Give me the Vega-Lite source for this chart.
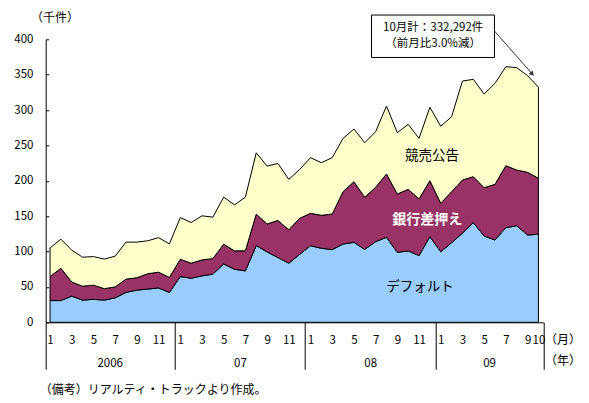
{
  "$schema": "https://vega.github.io/schema/vega-lite/v6.json",
  "width": 497.6,
  "height": 283,
  "autosize": {"type": "none"},
  "padding": {"left": 45.7, "top": 39.3, "right": 45.7, "bottom": 80.7},
  "background": "white",
  "config": {
    "view": {"stroke": null},
    "font": "Noto Sans CJK JP",
    "axis": {"labelFont": "Noto Sans CJK JP", "titleFont": "Noto Sans CJK JP", "labelColor": "black", "titleColor": "black", "grid": false, "domainColor": "black", "tickColor": "black", "titleFontWeight": "normal"},
    "text": {"font": "Noto Sans CJK JP"}
  },
  "title": {"text": "（備考）リアルティ・トラックより作成。", "orient": "bottom", "anchor": "start", "frame": "group", "fontSize": 12, "fontWeight": "normal", "color": "black", "offset": 15, "dx": -6, "font": "Noto Sans CJK JP"},
  "datasets": {
    "系列表": [
      {"系列": "デフォルト", "順": 1},
      {"系列": "銀行差押え", "順": 2},
      {"系列": "競売公告", "順": 3}
    ]
  },
  "data": {"values": [
    {"年": 2006, "月": 1, "i": 0, "デフォルト": 30.7, "銀行差押え": 33.8, "競売公告": 40.5},
    {"年": 2006, "月": 2, "i": 1, "デフォルト": 30.7, "銀行差押え": 45.7, "競売公告": 41.1},
    {"年": 2006, "月": 3, "i": 2, "デフォルト": 37.0, "銀行差押え": 20.0, "競売公告": 45.0},
    {"年": 2006, "月": 4, "i": 3, "デフォルト": 31.3, "銀行差押え": 19.7, "競売公告": 41.0},
    {"年": 2006, "月": 5, "i": 4, "デフォルト": 32.5, "銀行差押え": 20.0, "競売公告": 40.4},
    {"年": 2006, "月": 6, "i": 5, "デフォルト": 31.3, "銀行差押え": 16.2, "競売公告": 41.8},
    {"年": 2006, "月": 7, "i": 6, "デフォルト": 34.6, "銀行差押え": 15.4, "競売公告": 43.5},
    {"年": 2006, "月": 8, "i": 7, "デフォルト": 42.2, "銀行差押え": 18.8, "競売公告": 52.3},
    {"年": 2006, "月": 9, "i": 8, "デフォルト": 45.5, "銀行差押え": 17.5, "競売公告": 50.3},
    {"年": 2006, "月": 10, "i": 9, "デフォルト": 47.0, "銀行差押え": 21.7, "競売公告": 46.5},
    {"年": 2006, "月": 11, "i": 10, "デフォルト": 48.5, "銀行差押え": 22.3, "競売公告": 48.9},
    {"年": 2006, "月": 12, "i": 11, "デフォルト": 42.2, "銀行差押え": 21.2, "競売公告": 47.4},
    {"年": 2007, "月": 1, "i": 12, "デフォルト": 64.6, "銀行差押え": 24.6, "競売公告": 58.8},
    {"年": 2007, "月": 2, "i": 13, "デフォルト": 62.3, "銀行差押え": 21.2, "競売公告": 57.5},
    {"年": 2007, "月": 3, "i": 14, "デフォルト": 65.6, "銀行差押え": 22.6, "競売公告": 62.3},
    {"年": 2007, "月": 4, "i": 15, "デフォルト": 68.0, "銀行差押え": 22.0, "競売公告": 58.6},
    {"年": 2007, "月": 5, "i": 16, "デフォルト": 82.5, "銀行差押え": 27.9, "競売公告": 66.5},
    {"年": 2007, "月": 6, "i": 17, "デフォルト": 75.0, "銀行差押え": 26.0, "競売公告": 65.0},
    {"年": 2007, "月": 7, "i": 18, "デフォルト": 72.6, "銀行差押え": 28.4, "競売公告": 76.0},
    {"年": 2007, "月": 8, "i": 19, "デフォルト": 108.5, "銀行差押え": 44.3, "競売公告": 86.8},
    {"年": 2007, "月": 9, "i": 20, "デフォルト": 99.5, "銀行差押え": 39.5, "競売公告": 81.8},
    {"年": 2007, "月": 10, "i": 21, "デフォルト": 91.5, "銀行差押え": 52.4, "競売公告": 80.6},
    {"年": 2007, "月": 11, "i": 22, "デフォルト": 83.5, "銀行差押え": 47.2, "競売公告": 71.3},
    {"年": 2007, "月": 12, "i": 23, "デフォルト": 96.0, "銀行差押え": 51.0, "競売公告": 69.0},
    {"年": 2008, "月": 1, "i": 24, "デフォルト": 108.2, "銀行差押え": 45.8, "競売公告": 78.7},
    {"年": 2008, "月": 2, "i": 25, "デフォルト": 104.6, "銀行差押え": 46.6, "競売公告": 74.4},
    {"年": 2008, "月": 3, "i": 26, "デフォルト": 102.7, "銀行差押え": 50.3, "競売公告": 79.7},
    {"年": 2008, "月": 4, "i": 27, "デフォルト": 110.6, "銀行差押え": 74.0, "競売公告": 75.4},
    {"年": 2008, "月": 5, "i": 28, "デフォルト": 113.0, "銀行差押え": 85.7, "競売公告": 74.5},
    {"年": 2008, "月": 6, "i": 29, "デフォルト": 103.0, "銀行差押え": 73.7, "競売公告": 77.2},
    {"年": 2008, "月": 7, "i": 30, "デフォルト": 114.0, "銀行差押え": 76.8, "競売公告": 78.6},
    {"年": 2008, "月": 8, "i": 31, "デフォルト": 120.1, "銀行差押え": 89.5, "競売公告": 96.1},
    {"年": 2008, "月": 9, "i": 32, "デフォルト": 98.9, "銀行差押え": 82.4, "競売公告": 86.7},
    {"年": 2008, "月": 10, "i": 33, "デフォルト": 100.8, "銀行差押え": 87.2, "競売公告": 91.8},
    {"年": 2008, "月": 11, "i": 34, "デフォルト": 94.2, "銀行差押え": 80.1, "競売公告": 85.7},
    {"年": 2008, "月": 12, "i": 35, "デフォルト": 121.0, "銀行差押え": 79.2, "競売公告": 103.7},
    {"年": 2009, "月": 1, "i": 36, "デフォルト": 99.8, "銀行差押え": 68.4, "競売公告": 108.8},
    {"年": 2009, "月": 2, "i": 37, "デフォルト": 112.5, "銀行差押え": 72.1, "競売公告": 106.0},
    {"年": 2009, "月": 3, "i": 38, "デフォルト": 126.0, "銀行差押え": 75.1, "競売公告": 139.9},
    {"年": 2009, "月": 4, "i": 39, "デフォルト": 141.0, "銀行差押え": 64.8, "競売公告": 137.6},
    {"年": 2009, "月": 5, "i": 40, "デフォルト": 122.0, "銀行差押え": 68.2, "競売公告": 132.5},
    {"年": 2009, "月": 6, "i": 41, "デフォルト": 116.3, "銀行差押え": 78.7, "競売公告": 142.8},
    {"年": 2009, "月": 7, "i": 42, "デフォルト": 133.7, "銀行差押え": 87.6, "競売公告": 140.0},
    {"年": 2009, "月": 8, "i": 43, "デフォルト": 136.5, "銀行差押え": 78.7, "競売公告": 144.7},
    {"年": 2009, "月": 9, "i": 44, "デフォルト": 123.4, "銀行差押え": 88.6, "競売公告": 136.6},
    {"年": 2009, "月": 10, "i": 45, "デフォルト": 124.4, "銀行差押え": 79.1, "競売公告": 128.8}
  ]},
  "resolve": {"axis": {"x": "independent", "y": "independent"}},
  "layer": [
    {
      "transform": [
        {"fold": ["デフォルト", "銀行差押え", "競売公告"], "as": ["系列", "件数"]},
        {"lookup": "系列", "from": {"data": {"name": "系列表"}, "key": "系列", "fields": ["順"]}}
      ],
      "mark": {"type": "area", "stroke": "black", "strokeWidth": 1, "opacity": 1},
      "encoding": {
        "x": {"field": "i", "type": "quantitative",
          "scale": {"domain": [-0.4, 45.45], "nice": false, "zero": false},
          "axis": {"orient": "bottom", "values": [0, 2, 4, 6, 8, 10, 12, 14, 16, 18, 20, 22, 24, 26, 28, 30, 32, 34, 36, 38, 40, 42, 44, 45],
            "labelExpr": "datum.value % 12 + 1", "ticks": false, "domain": true, "domainWidth": 1,
            "labelFontSize": 11.5, "labelPadding": 17.7, "labelBaseline": "middle", "labelFlush": false, "labelOverlap": false,
            "title": "（月）", "titleX": 516.8, "titleY": 17.5, "titleAlign": "center", "titleBaseline": "middle", "titleFontSize": 12}},
        "y": {"field": "件数", "type": "quantitative", "stack": "zero",
          "scale": {"domain": [0, 400], "nice": false},
          "axis": {"orient": "left", "values": [0, 50, 100, 150, 200, 250, 300, 350, 400], "tickSize": -3, "tickWidth": 1, "domainWidth": 1,
            "labelFontSize": 11.5, "labelPadding": 15.7,
            "title": "（千件）", "titleAngle": 0, "titleX": 8.8, "titleY": -22.3, "titleAlign": "center", "titleBaseline": "middle", "titleFontSize": 12}},
        "color": {"field": "系列", "type": "nominal",
          "scale": {"domain": ["デフォルト", "銀行差押え", "競売公告"], "range": ["#99CCFF", "#993366", "#FFFFCC"]}, "legend": null},
        "order": {"field": "順", "type": "quantitative", "sort": "ascending"}
      }
    },
    {
      "data": {"values": [{}]},
      "mark": {"type": "text", "fontSize": 13.5, "color": "black", "align": "center", "baseline": "middle"},
      "encoding": {
        "x": {"datum": 35.2, "type": "quantitative",
          "axis": {"orient": "bottom", "values": [5.5, 17.5, 29.5, 40.45],
            "labelExpr": "datum.value < 11 ? '2006' : datum.value < 23 ? '07' : datum.value < 35 ? '08' : '09'",
            "ticks": false, "domain": false, "labelFontSize": 11.5, "labelPadding": 41.5, "labelBaseline": "middle", "labelFlush": false,
            "title": "（年）", "titleX": 516.8, "titleY": 38, "titleAlign": "center", "titleBaseline": "middle", "titleFontSize": 12}},
        "y": {"datum": 234.9, "type": "quantitative", "axis": null},
        "text": {"value": "競売公告"}
      }
    },
    {
      "data": {"values": [{}]},
      "mark": {"type": "text", "fontSize": 13.5, "color": "black", "align": "center", "baseline": "middle"},
      "encoding": {
        "x": {"datum": 34.1, "type": "quantitative",
          "axis": {"orient": "bottom", "values": [-0.4, 11.5, 23.5, 35.5, 45.45], "labels": false, "domain": false, "ticks": true, "tickSize": 47, "tickWidth": 1, "title": null}},
        "y": {"datum": 49.9, "type": "quantitative", "axis": null},
        "text": {"value": "デフォルト"}
      }
    },
    {
      "data": {"values": [{}]},
      "mark": {"type": "text", "fontSize": 14, "fontWeight": "bold", "color": "white", "align": "center", "baseline": "middle"},
      "encoding": {
        "x": {"datum": 34.75, "type": "quantitative", "axis": null},
        "y": {"datum": 144.6, "type": "quantitative", "axis": null},
        "text": {"value": "銀行差押え"}
      }
    },
    {
      "data": {"values": [{}]},
      "mark": {"type": "rect", "fill": "white", "stroke": "black", "strokeWidth": 1},
      "encoding": {
        "x": {"datum": 29.62, "type": "quantitative", "axis": null},
        "x2": {"datum": 40.95},
        "y": {"datum": 434.3, "type": "quantitative", "axis": null},
        "y2": {"datum": 374.3}
      }
    },
    {
      "data": {"values": [{}]},
      "mark": {"type": "text", "fontSize": 11.5, "color": "black", "align": "center", "baseline": "middle"},
      "encoding": {
        "x": {"datum": 35.3, "type": "quantitative", "axis": null},
        "y": {"datum": 415.6, "type": "quantitative", "axis": null},
        "text": {"value": "10月計：332,292件"}
      }
    },
    {
      "data": {"values": [{}]},
      "mark": {"type": "text", "fontSize": 11.5, "color": "black", "align": "center", "baseline": "middle"},
      "encoding": {
        "x": {"datum": 35.3, "type": "quantitative", "axis": null},
        "y": {"datum": 393.8, "type": "quantitative", "axis": null},
        "text": {"value": "（前月比3.0%減）"}
      }
    },
    {
      "data": {"values": [{}]},
      "mark": {"type": "rule", "color": "#333333", "strokeWidth": 1},
      "encoding": {
        "x": {"datum": 40.95, "type": "quantitative", "axis": null},
        "y": {"datum": 411.7, "type": "quantitative", "axis": null},
        "x2": {"datum": 44.43},
        "y2": {"datum": 350.9}
      }
    },
    {
      "data": {"values": [{}]},
      "mark": {"type": "point", "shape": "triangle-up", "filled": true, "color": "#333333", "size": 30, "angle": 138.4, "opacity": 1},
      "encoding": {
        "x": {"datum": 44.43, "type": "quantitative", "axis": null},
        "y": {"datum": 350.9, "type": "quantitative", "axis": null}
      }
    }
  ]
}
